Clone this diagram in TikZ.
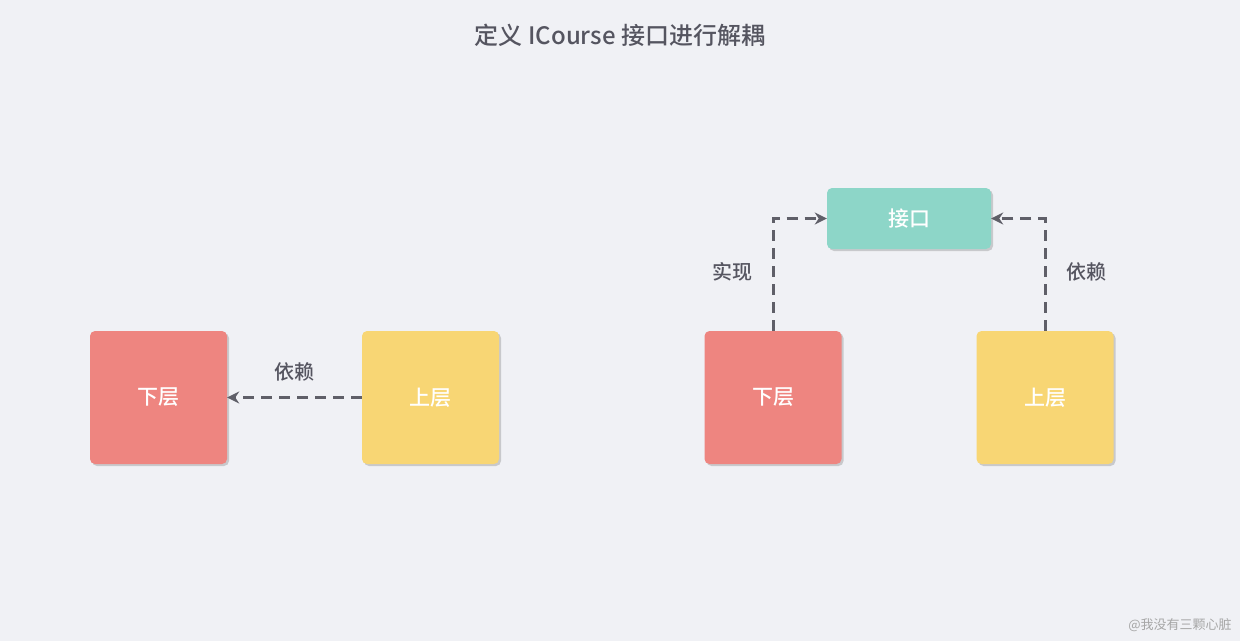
\documentclass[tikz,border=0pt]{standalone}
\usepackage{fontspec}
\setmainfont{Noto Sans CJK SC}[BoldFont={Noto Sans CJK SC Medium}]
\usetikzlibrary{shadows,arrows.meta}
\definecolor{bg}{HTML}{F0F1F5}
\definecolor{redc}{HTML}{EE8580}
\definecolor{yelc}{HTML}{F8D674}
\definecolor{tealc}{HTML}{8DD6C8}
\definecolor{linec}{HTML}{5F5F68}
\definecolor{titc}{HTML}{555560}
\begin{document}
\begin{tikzpicture}[x=1pt,y=-1pt,
  box/.style={rounded corners=5pt,minimum width=137pt,minimum height=133pt,text=white,font=\fontsize{21}{24}\selectfont\bfseries,
    drop shadow={opacity=0.35,shadow xshift=2pt,shadow yshift=-2pt}},
  conn/.style={draw=linec,line width=3pt,dash pattern=on 11pt off 7pt,-{Stealth[length=12pt,width=12pt]}},
  lab/.style={text=titc,font=\fontsize{20}{22}\selectfont\bfseries}]
\fill[bg] (0,0) rectangle (1240,641);
\useasboundingbox (0,0) rectangle (1240,641);
\node[text=titc,font=\fontsize{24}{28}\selectfont\bfseries] (title) at (620,35) {定义 ICourse 接口进行解耦};
\node[box,fill=redc] (lr) at (158.5,397.5) {下层};
\node[box,fill=yelc] (ly) at (430.5,397.5) {上层};
\node[box,fill=redc] (rr) at (773,397.5) {下层};
\node[box,fill=yelc] (ry) at (1045,397.5) {上层};
\node[box,fill=tealc,minimum width=164pt,minimum height=61pt] (if) at (909,218.5) {接口};
\draw[conn] (ly.west) -- (lr.east);
\draw[conn] (rr.north) |- (if.west);
\draw[conn] (ry.north) |- (if.east);
\node[lab] (l1) at (294,372) {依赖};
\node[lab] (l2) at (732,272) {实现};
\node[lab] (l3) at (1086,272) {依赖};
\node[text=gray!70,font=\fontsize{13}{15}\selectfont] (wm) at (1180,625) {@我没有三颗心脏};
\end{tikzpicture}
\end{document}
